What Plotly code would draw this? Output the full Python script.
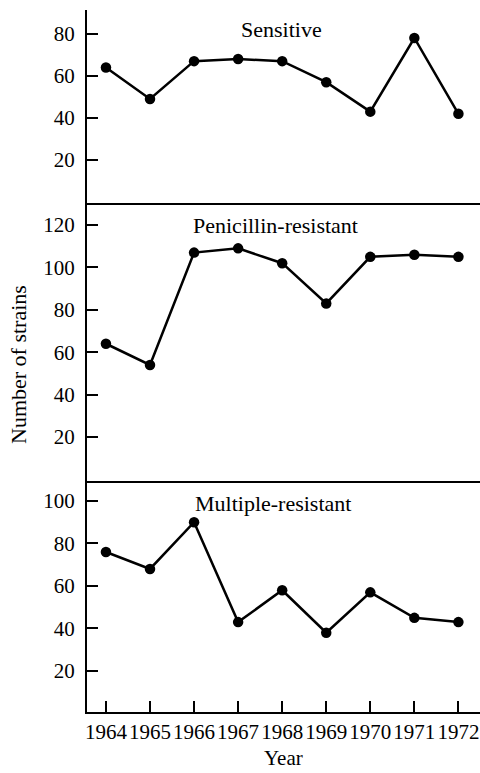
import plotly.graph_objects as go

years = [1964, 1965, 1966, 1967, 1968, 1969, 1970, 1971, 1972]
sensitive = [64, 49, 67, 68, 67, 57, 43, 78, 42]
penicillin = [64, 54, 107, 109, 102, 83, 105, 106, 105]
multiple = [76, 68, 90, 43, 58, 38, 57, 45, 43]

panel_titles = ["Sensitive", "Penicillin-resistant", "Multiple-resistant"]
y_ticks_top = [20, 40, 60, 80]
y_ticks_mid = [20, 40, 60, 80, 100, 120]
y_ticks_bot = [20, 40, 60, 80, 100]

FONT = "Liberation Serif, Times New Roman, serif"
W, H = 480, 773
L, R, T, B = 87, 0, 10, 61
plot_h = H - T - B
plot_w = W - L - R

def py(pix):
    return (H - B - pix) / plot_h

def px(pix):
    return (pix - L) / plot_w

fig = go.Figure()
series = [sensitive, penicillin, multiple]
for i, s in enumerate(series):
    fig.add_trace(go.Scatter(
        x=years, y=s, mode="lines+markers",
        line=dict(color="black", width=2.5),
        marker=dict(color="black", size=10.5),
        xaxis="x" if i == 0 else f"x{i+1}",
        yaxis="y" if i == 0 else f"y{i+1}",
        showlegend=False, hoverinfo="skip",
    ))

xr = [1963.57, 1972.49]
d_top = [py(203), 1.0]
d_mid = [py(481), py(203)]
d_bot = [0.0, py(481)]

common_y = dict(showline=True, linecolor="black", linewidth=2, ticks="inside",
                ticklen=11, tickwidth=2, tickcolor="black", showgrid=False,
                zeroline=False, tickfont=dict(family=FONT, size=21, color="black"),
                ticklabelstandoff=6)
common_x = dict(range=xr, showline=True, linecolor="black", linewidth=2,
                showgrid=False, zeroline=False)

fig.update_layout(
    width=W, height=H,
    margin=dict(l=L, r=R, t=T, b=B),
    paper_bgcolor="white", plot_bgcolor="white",
    font=dict(family=FONT, color="black"),
    xaxis=dict(**common_x, domain=[0, 1], anchor="y", showticklabels=False, ticks=""),
    xaxis2=dict(**common_x, domain=[0, 1], anchor="y2", showticklabels=False, ticks=""),
    xaxis3=dict(**common_x, domain=[0, 1], anchor="y3", tickmode="array",
                tickvals=years, ticktext=[str(y) for y in years], ticks="inside",
                ticklen=11, tickwidth=2, tickcolor="black", tickangle=0,
                tickfont=dict(family=FONT, size=21, color="black"),
                ticklabelstandoff=0),
    yaxis=dict(**common_y, domain=d_top, range=[-0.4, 91.3], anchor="x",
               tickmode="array", tickvals=y_ticks_top),
    yaxis2=dict(**common_y, domain=d_mid, range=[-0.75, 130.4], anchor="x2",
                tickmode="array", tickvals=y_ticks_mid),
    yaxis3=dict(**common_y, domain=d_bot, range=[0.7, 109.4], anchor="x3",
                tickmode="array", tickvals=y_ticks_bot),
)

title_pos = [(281, 30), (275, 225), (272.5, 503)]
for t, (x, y) in zip(panel_titles, title_pos):
    fig.add_annotation(text=t, xref="paper", yref="paper", x=px(x), y=py(y),
                       xanchor="center", yanchor="middle", showarrow=False,
                       font=dict(family=FONT, size=22, color="black"))

fig.add_annotation(text="Number of strains", xref="paper", yref="paper",
                   x=px(18), y=py(365), textangle=-90, xanchor="center",
                   yanchor="middle", showarrow=False,
                   font=dict(family=FONT, size=22, color="black"))
fig.add_annotation(text="Year", xref="paper", yref="paper",
                   x=px(283), y=py(758), xanchor="center", yanchor="middle",
                   showarrow=False, font=dict(family=FONT, size=21, color="black"))

fig.write_html("out.html")
